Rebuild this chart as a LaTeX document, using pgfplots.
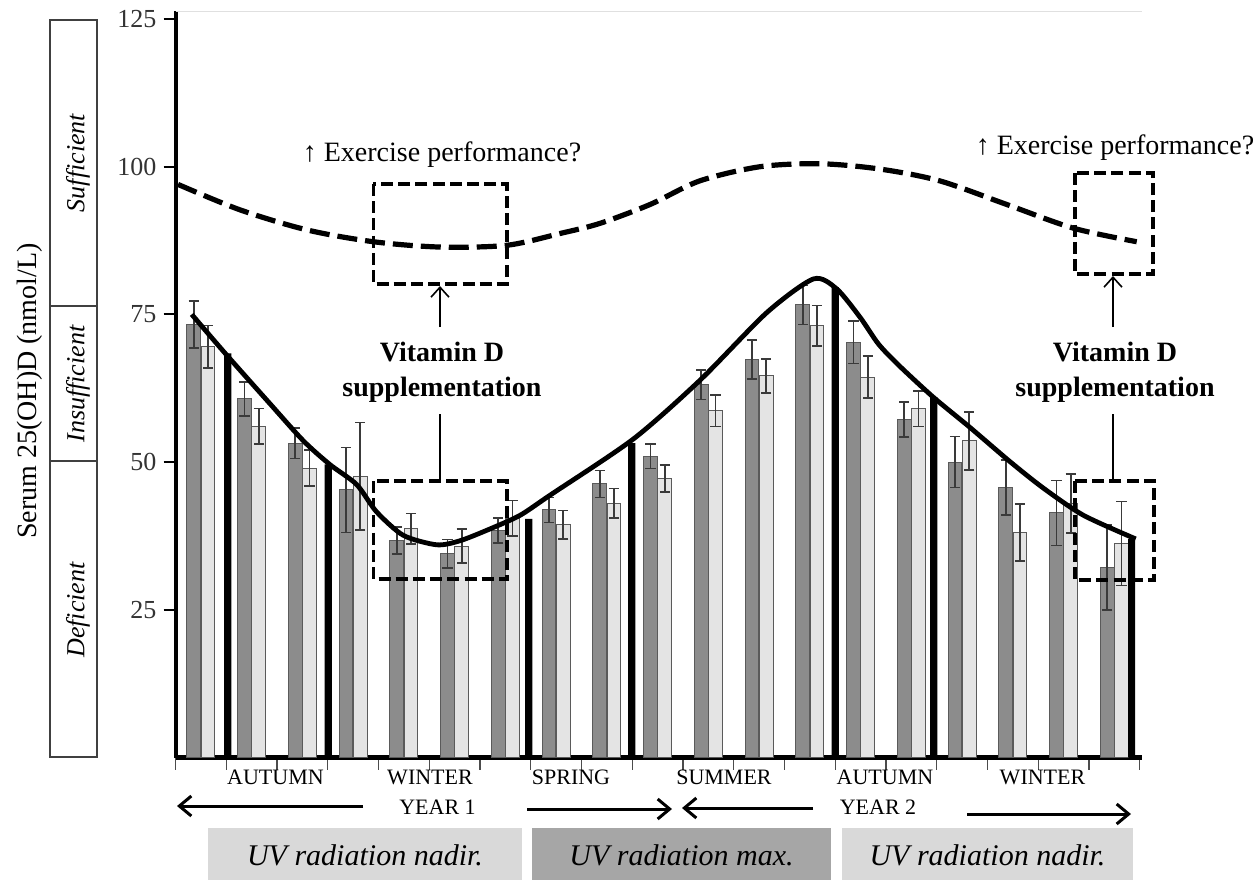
\documentclass[border=0pt]{standalone}
\usepackage{fontspec}
\setmainfont{Liberation Serif}
\usepackage{pgfplots}
\pgfplotsset{compat=1.18}
\usetikzlibrary{arrows.meta}

\definecolor{barDark}{HTML}{8C8C8C}
\definecolor{barLight}{HTML}{E4E4E4}
\definecolor{edgeGray}{HTML}{5A5A5A}
\definecolor{errGray}{HTML}{3A3A3A}
\definecolor{uvNadir}{HTML}{D9D9D9}
\definecolor{uvMax}{HTML}{A6A6A6}

% monthly means and errors, two groups (dark / light), placed side by side
\pgfplotstableread{
xd     dark  edark xl     light elight
0.36   73.3  4.0   0.64   69.5  3.6
1.36   60.7  2.9   1.64   56.1  3.0
2.36   53.2  2.6   2.64   49.0  3.0
3.36   45.3  7.2   3.64   47.6  9.1
4.36   36.7  2.3   4.64   38.7  2.6
5.36   34.5  2.4   5.64   35.8  2.9
6.36   38.4  2.1   6.64   40.5  3.0
7.36   41.9  2.1   7.64   39.4  2.4
8.36   46.3  2.3   8.64   43.0  2.5
9.36   51.0  2.1   9.64   47.2  2.3
10.36  63.1  2.5   10.64  58.7  2.7
11.36  67.4  3.3   11.64  64.6  2.9
12.36  76.6  3.3   12.64  73.1  3.4
13.36  70.3  3.6   13.64  64.4  3.6
14.36  57.2  3.0   14.64  59.0  3.0
15.36  50.0  4.3   15.64  53.6  4.9
16.36  45.7  4.7   16.64  38.1  4.8
17.36  41.4  5.5   17.64  43.0  5.0
18.36  32.2  7.2   18.64  36.2  7.1
}\monthly

\tikzset{
  boxdash/.style={line width=1.8pt, dash pattern=on 6pt off 2.6pt},
  thinarrow/.style={line width=0.8pt, -{Straight Barb[length=5pt,width=9pt]}},
  seasonarrow/.style={line width=1.5pt, -{Straight Barb[length=6pt,width=10pt]}},
}
\pgfplotsset{
  errbars/.style={error bars/.cd, y dir=both, y explicit,
    error bar style={line width=0.8pt, errGray},
    error mark options={rotate=90, mark size=2.6pt, line width=0.8pt, errGray}},
}

\begin{document}
\begin{tikzpicture}
\begin{axis}[
  at={(87.75pt,-378.75pt)}, anchor=south west,
  scale only axis, width=483.4pt, height=373.1pt,
  xmin=0, xmax=19.05, ymin=0, ymax=126.3,
  clip=false,
  axis x line*=bottom, axis y line*=left,
  x axis line style={line width=2.6pt, -},
  y axis line style={line width=2pt, -},
  xtick={0,...,19}, xticklabels={},
  xtick pos=bottom, ytick pos=left,
  tick align=outside,
  major tick length=6pt,
  x tick style={line width=0.6pt, black!70},
  ytick={25,50,75,100,125},
  y tick style={line width=1pt, black},
  yticklabel style={font=\fontsize{13}{15}\selectfont, text=black!80},
  /pgf/number format/assume math mode=true,
]
% faint top rule
\draw[black!12, line width=0.8pt] (axis cs:0,126.3) -- (axis cs:19.05,126.3);

\addplot[ybar, bar width=0.27, bar shift=0, fill=barDark, draw=edgeGray, line width=0.5pt, errbars]
  table[x=xd, y=dark, y error=edark] {\monthly};

\addplot[ybar, bar width=0.27, bar shift=0, fill=barLight, draw=edgeGray, line width=0.5pt, errbars]
  table[x=xl, y=light, y error=elight] {\monthly};

% season boundaries
\addplot[ybar, bar width=0.14, bar shift=0, fill=black, draw=none]
  coordinates {(1.03,68.4) (3.01,49.6) (6.96,40.4) (8.99,53.2) (13.0,79.6) (14.94,61.0) (18.84,37.0)};

% seasonal trend
\addplot[line width=2.4pt, smooth, tension=0.45] coordinates {
  (0.32,75.0) (0.98,68.4) (1.86,59.9) (2.52,53.6) (3.04,49.6) (3.57,46.2)
  (3.96,41.6) (4.49,37.6) (5.15,36.0) (5.61,36.7) (6.20,38.7) (6.79,41.0)
  (7.38,44.4) (9.02,53.9) (10.34,63.9) (11.65,75.3) (12.57,81.0) (13.03,79.3)
  (13.49,74.5) (13.85,70.0) (14.25,66.4) (14.93,61.0) (15.65,55.9) (16.44,50.1)
  (17.10,45.6) (17.89,41.0) (18.92,37.0)};

% supplemented level
\addplot[line width=2.6pt, smooth, tension=0.5, dash pattern=on 10pt off 4pt] coordinates {
  (0.05,97.0) (1.27,92.7) (2.59,89.3) (3.90,87.3) (5.21,86.4) (6.53,86.7)
  (7.58,88.7) (8.36,90.4) (9.35,93.6) (10.33,97.6) (11.52,100.0) (12.70,100.5)
  (13.88,99.6) (15.06,97.6) (16.38,93.6) (17.69,89.6) (18.94,87.3)};
\end{axis}

\begin{scope}[x=0.5pt, y=-0.5pt]
\path[use as bounding box] (0,0) rectangle (1260,880);

% status scale
\draw[line width=0.6pt, black!75] (50,20) rectangle (97,757);
\draw[line width=0.6pt, black!75] (50,306) -- (97,306) (50,461) -- (97,461);
\node[rotate=90, font=\fontsize{13}{15}\selectfont\itshape] at (78,163) {Sufficient};
\node[rotate=90, font=\fontsize{13}{15}\selectfont\itshape] at (78,384) {Insufficient};
\node[rotate=90, font=\fontsize{13}{15}\selectfont\itshape] at (78,610) {Deficient};
\node[rotate=90, font=\fontsize{14}{16}\selectfont] at (30,391) {Serum 25(OH)D (nmol/L)};

% supplementation windows
\draw[boxdash] (373.3,184) rectangle (506.7,284);
\draw[boxdash] (373.3,481) rectangle (506.7,579);
\draw[boxdash] (1075,173) rectangle (1153,274);
\draw[boxdash] (1075,481) rectangle (1154,580);

\draw[thinarrow] (440,327) -- (440,286);
\draw[line width=0.8pt] (440,414) -- (440,481);
\draw[thinarrow] (1113,327) -- (1113,276);
\draw[line width=0.8pt] (1113,414) -- (1113,481);

\node[align=center, font=\fontsize{14}{17.5}\selectfont\bfseries] at (442,372) {Vitamin D\\supplementation};
\node[align=center, font=\fontsize{14}{17.5}\selectfont\bfseries] at (1115,372) {Vitamin D\\supplementation};

\node[font=\fontsize{14}{16}\selectfont] at (442,155) {↑ Exercise performance?};
\node[font=\fontsize{14}{16}\selectfont] at (1115,148) {↑ Exercise performance?};

% seasons
\foreach \xx/\lab in {275.5/AUTUMN, 430/WINTER, 571/SPRING, 724/SUMMER, 885/AUTUMN, 1042.5/WINTER}
  \node[font=\fontsize{11}{13}\selectfont] at (\xx,777) {\lab};
\node[font=\fontsize{11}{13}\selectfont] at (437.5,807) {YEAR 1};
\node[font=\fontsize{11}{13}\selectfont] at (878,807) {YEAR 2};

\draw[seasonarrow] (363,806) -- (177,806);
\draw[seasonarrow] (527,809) -- (672,809);
\draw[seasonarrow] (813,808) -- (682,808);
\draw[seasonarrow] (967,814) -- (1131,814);

% UV bands
\fill[uvNadir] (208,828) rectangle (522,880);
\fill[uvMax] (532,828) rectangle (831,880);
\fill[uvNadir] (842,828) rectangle (1133,880);
\node[font=\fontsize{15}{17}\selectfont\itshape] at (365,855) {UV radiation nadir.};
\node[font=\fontsize{15}{17}\selectfont\itshape] at (681.5,855) {UV radiation max.};
\node[font=\fontsize{15}{17}\selectfont\itshape] at (987.5,855) {UV radiation nadir.};
\end{scope}
\end{tikzpicture}
\end{document}
